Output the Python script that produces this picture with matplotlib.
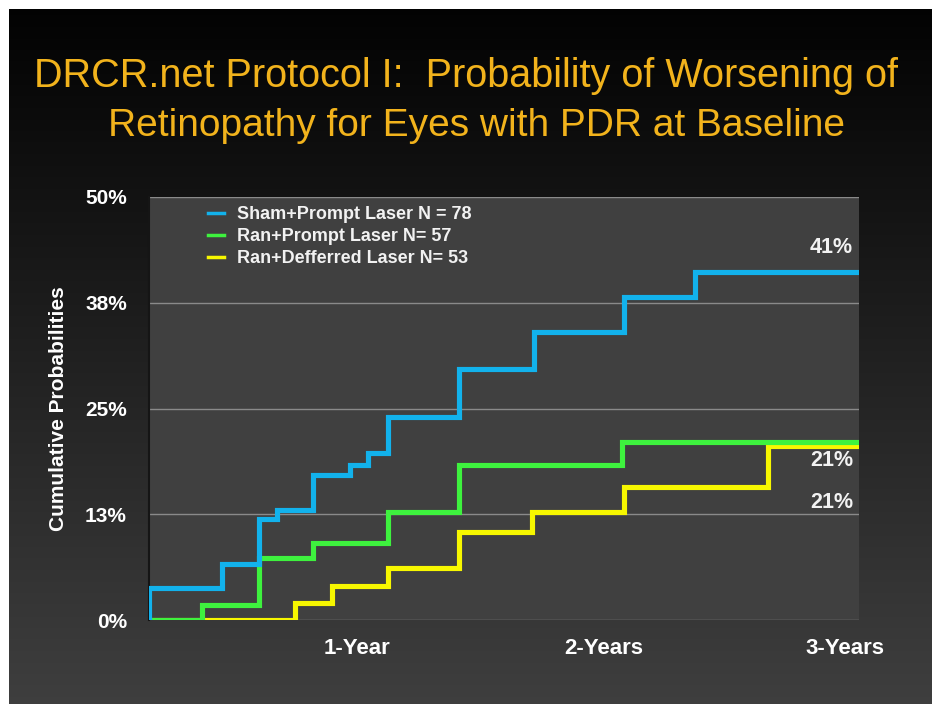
import numpy as np
import matplotlib
matplotlib.use("Agg")
import matplotlib.pyplot as plt

# Step data (x in months from baseline, y in %)
sham_x = [0, 0, 3.7, 5.6, 6.5, 8.3, 10.2, 11.1, 12.1, 15.7, 19.5, 24.1, 27.7, 36]
sham_y = [0, 3.8, 6.6, 11.9, 13.0, 17.1, 18.3, 19.7, 24.0, 29.7, 34.0, 38.2, 41.1, 41.1]

prompt_x = [0, 2.7, 5.6, 8.3, 12.1, 15.7, 24.0, 36]
prompt_y = [0, 1.8, 7.3, 9.1, 12.8, 18.3, 21.0, 21.0]

deferred_x = [0, 7.4, 9.3, 12.1, 15.7, 19.4, 24.1, 31.4, 36]
deferred_y = [0, 2.0, 4.0, 6.1, 10.4, 12.8, 15.7, 20.6, 20.6]

labels = ["Sham+Prompt Laser N = 78", "Ran+Prompt Laser N= 57", "Ran+Defferred Laser N= 53"]
colors = ["#12b2ec", "#3ef23e", "#f7f700"]

y_ticks = [0, 12.5, 25, 37.5, 50]
y_ticklabels = ["0%", "13%", "25%", "38%", "50%"]
x_ticks = [10.55, 23.07, 35.29]
x_ticklabels = ["1-Year", "2-Years", "3-Years"]

end_labels = ["41%", "21%", "21%"]
end_label_y = [44.0, 18.9, 13.9]

W, H = 932, 704
fig = plt.figure(figsize=(W / 100, H / 100), dpi=100, facecolor="white")

# slide background: vertical gradient black -> dark gray
bg = fig.add_axes([9 / W, 0, (W - 9) / W, (H - 9) / H])
grad = np.linspace(0.01, 0.245, 256).reshape(-1, 1)
bg.imshow(np.dstack([grad, grad, grad]), aspect="auto", extent=[0, 1, 0, 1], origin="upper")
bg.set_axis_off()

# title
title_color = "#f2b31c"
fig.text(466 / W, 1 - 87 / H, "DRCR.net Protocol I:  Probability of Worsening of",
         ha="center", va="baseline", fontsize=28.5, color=title_color, family="Liberation Sans")
fig.text(476 / W, 1 - 136 / H, "Retinopathy for Eyes with PDR at Baseline",
         ha="center", va="baseline", fontsize=28, color=title_color, family="Liberation Sans")

ax = fig.add_axes([149 / W, 1 - 620 / H, 710 / W, 423 / H])
ax.set_facecolor("#404040")

ax.step(deferred_x, deferred_y, where="post", color=colors[2], lw=3.7, solid_joinstyle="miter", label=labels[2], zorder=3)
ax.step(prompt_x, prompt_y, where="post", color=colors[1], lw=3.7, solid_joinstyle="miter", label=labels[1], zorder=4)
ax.step(sham_x, sham_y, where="post", color=colors[0], lw=3.7, solid_joinstyle="miter", label=labels[0], zorder=5)

ax.set_xlim(0, 36)
ax.set_ylim(0, 50)
ax.set_yticks(y_ticks)
ax.set_yticklabels(y_ticklabels)
ax.set_xticks(x_ticks)
ax.set_xticklabels(x_ticklabels)
ax.tick_params(axis="y", length=0, pad=16, labelsize=15, labelcolor="white")
ax.tick_params(axis="x", length=0, pad=13, labelsize=16, labelcolor="white")
for t in ax.get_yticklabels() + ax.get_xticklabels():
    t.set_fontweight("bold")
    t.set_family("Liberation Sans")

ax.grid(axis="y", color="#8a8a8a", lw=1)
ax.set_axisbelow(True)
for s in ["top", "right", "bottom"]:
    ax.spines[s].set_visible(False)
ax.spines["left"].set_color("#151515")
ax.spines["left"].set_linewidth(1.5)

ax.set_ylabel("Cumulative Probabilities", fontsize=15, fontweight="bold", color="white",
              family="Liberation Sans")
ax.yaxis.set_label_coords(-(149 - 68) / 710, 0.5)

handles, labs = ax.get_legend_handles_labels()
leg = ax.legend(handles[::-1], labs[::-1], loc="upper left", bbox_to_anchor=((208 - 149) / 710, (620 - 206) / 423),
                frameon=False, borderpad=0, borderaxespad=0, handlelength=0.9, handletextpad=0.7,
                labelspacing=0.28, prop={"family": "Liberation Sans", "weight": "bold", "size": 13})
for t in leg.get_texts():
    t.set_color("#f2f2f2")
for l in leg.get_lines():
    l.set_linewidth(2.5)

for txt, yv in zip(end_labels, end_label_y):
    ax.text(35.7, yv, txt, ha="right", va="center", fontsize=15.5, fontweight="bold",
            color="#f2f2f2", family="Liberation Sans")

fig.savefig("out.png", dpi=100, facecolor="white")
